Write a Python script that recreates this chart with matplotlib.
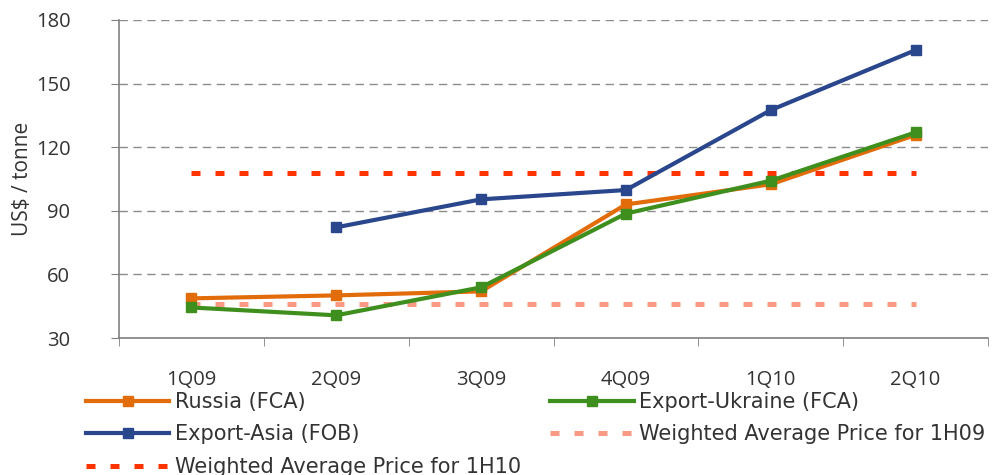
import matplotlib
matplotlib.use("Agg")
import matplotlib.pyplot as plt
import numpy as np

categories = ["1Q09", "2Q09", "3Q09", "4Q09", "1Q10", "2Q10"]
russia = [48.7, 50.1, 52.0, 93.0, 102.5, 125.8]
ukraine = [44.4, 40.7, 53.9, 88.7, 104.2, 127.0]
asia = [None, 82.2, 95.4, 99.8, 137.5, 165.8]
wap_1h09 = 46.2
wap_1h10 = 107.6

plt.rcParams['font.family'] = ['Open Sans', 'DejaVu Sans']

fig = plt.figure(figsize=(9.94, 4.75), dpi=100)
ax = fig.add_axes([0.1197, 0.2884, 0.8743, 0.6695])

x = np.arange(len(categories)) + 0.5
lw = 3.0
ms = 7.5

def arr(v):
    return np.array([np.nan if a is None else a for a in v], dtype=float)

ax.plot(x, arr(russia), color="#E36C0A", lw=lw, marker="s", ms=ms, label="Russia (FCA)", zorder=4)
ax.plot(x, arr(ukraine), color="#3F8F1F", lw=lw, marker="s", ms=ms, label="Export-Ukraine (FCA)", zorder=5)
ax.plot(x, arr(asia), color="#2A468C", lw=lw, marker="s", ms=ms, label="Export-Asia (FOB)", zorder=5)
dls = (0, (1.8, 3.0))
ax.plot(x, [wap_1h09] * len(x), color="#FA9A85", lw=3.6, ls=dls, dash_capstyle="butt",
        label="Weighted Average Price for 1H09", zorder=3)
ax.plot(x, [wap_1h10] * len(x), color="#FF3300", lw=3.6, ls=dls, dash_capstyle="butt",
        label="Weighted Average Price for 1H10", zorder=3)

ax.set_xlim(0, 6)
ax.set_ylim(30, 180)
ax.set_yticks([30, 60, 90, 120, 150, 180])
ax.set_xticks(x)
ax.set_xticklabels(categories)
ax.set_xticks(np.arange(0, 7), minor=True)
ax.tick_params(axis="x", which="major", length=0, pad=23, labelsize=14.5, colors="#333333")
ax.tick_params(axis="x", which="minor", length=6, direction="out", color="#808080")
ax.tick_params(axis="y", length=6, direction="out", color="#808080", labelsize=14.5, labelcolor="#333333", pad=29)

ax.yaxis.grid(True, color="#8c8c8c", ls=(0, (6, 4)), lw=1.0)
ax.set_axisbelow(True)
for s in ["top", "right"]:
    ax.spines[s].set_visible(False)
for s in ["left", "bottom"]:
    ax.spines[s].set_color("#808080")
    ax.spines[s].set_linewidth(1.2)

ax.set_ylabel("US$ / tonne", fontsize=15, color="#333333", labelpad=2)

h, l = ax.get_legend_handles_labels()
order = [0, 2, 4, 1, 3]
leg = fig.legend([h[i] for i in order], [l[i] for i in order], ncol=2,
                 loc="upper left", bbox_to_anchor=(0.0865, 0.175), frameon=False,
                 prop={'family': ['DejaVu Sans'], 'size': 15}, handlelength=4.0,
                 handletextpad=0.27, columnspacing=1.4,
                 labelspacing=0.6, numpoints=1, borderpad=0, borderaxespad=0)
for t in leg.get_texts():
    t.set_color("#333333")

fig.savefig("out.png", dpi=100)
